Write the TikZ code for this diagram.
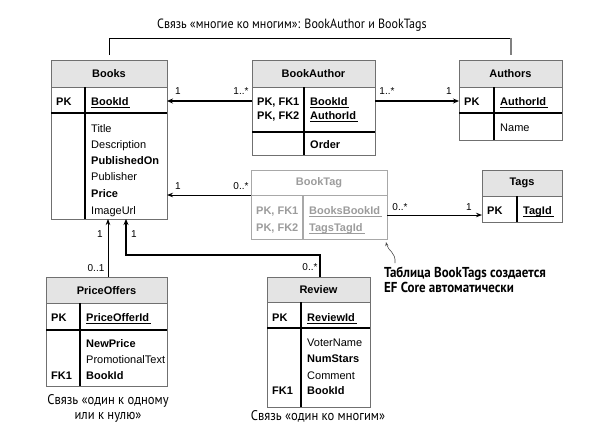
\documentclass[tikz,border=0pt]{standalone}
\usepackage{fontspec}
\setmainfont{Liberation Sans}
\newfontfamily\captfont[FakeStretch=0.9]{PT Sans}
\usetikzlibrary{arrows.meta}
\definecolor{hdrgray}{HTML}{E4E4E4}
\definecolor{framegray}{HTML}{707070}
\definecolor{ghost}{HTML}{9C9C9C}
\definecolor{ghostline}{HTML}{A8A8A8}
\newcommand\keyu[1]{\setbox0=\hbox{#1}\rlap{\raisebox{-3pt}{\rule{\dimexpr\wd0+2pt\relax}{1.1pt}}}\box0}
\tikzset{
  ent/.style={draw=framegray, line width=0.9pt, inner sep=0pt, anchor=north west},
  hdrline/.style={draw=framegray, line width=0.7pt},
  thk/.style={draw=black, line width=1.8pt},
  hdrtxt/.style={inner sep=0pt, font=\fontsize{11}{13}\selectfont\bfseries},
  txt/.style={anchor=base west, inner sep=0pt, font=\fontsize{11}{13}\selectfont},
  btxt/.style={txt, font=\fontsize{11}{13}\selectfont\bfseries},
  mult/.style={inner sep=0pt, font=\fontsize{10}{12}\selectfont},
  capt/.style={inner sep=0pt, font=\fontsize{14}{15}\captfont, align=center},
  titletxt/.style={inner sep=0pt, font=\fontsize{13.4}{15}\captfont},
  notetxt/.style={inner sep=0pt, font=\fontsize{14.4}{14.5}\captfont\bfseries, align=left, anchor=north west},
  thickarrow/.style={line width=1.8pt, -{Stealth[length=6pt,width=5pt]}},
  thinarrow/.style={line width=0.9pt, -{Stealth[length=6pt,width=4.5pt]}},
}
\begin{document}
\begin{tikzpicture}[x=1pt,y=-1pt]
\useasboundingbox (0,0) rectangle (598,432);

% ---------- Books ----------
\fill[hdrgray] (51,60) rectangle (167,87);
\node[ent, minimum width=116pt, minimum height=159pt] (books) at (51,60) {};
\draw[hdrline] (51,87) -- (167,87);
\draw[thk] (51,113) -- (167,113);
\draw[thk] (85,87) -- (85,219);
\node[hdrtxt] (booksh) at (109,74) {Books};
\node[btxt] (b1) at (56,105) {PK};
\node[btxt] (b2) at (91,105) {\keyu{BookId}};
\node[txt] (b3) at (91,132) {Title};
\node[txt] (b4) at (91,148) {Description};
\node[btxt] (b5) at (91,164) {PublishedOn};
\node[txt] (b6) at (91,180) {Publisher};
\node[btxt] (b7) at (91,197) {Price};
\node[txt] (b8) at (91,214) {ImageUrl};

% ---------- BookAuthor ----------
\fill[hdrgray] (252,60) rectangle (375,87);
\node[ent, minimum width=123pt, minimum height=95pt] (ba) at (252,60) {};
\draw[hdrline] (252,87) -- (375,87);
\draw[thk] (252,132) -- (375,132);
\draw[thk] (304,87) -- (304,155);
\node[hdrtxt] (bah) at (313.5,74) {BookAuthor};
\node[btxt] (ba1) at (257,105) {PK, FK1};
\node[btxt] (ba2) at (257,119) {PK, FK2};
\node[btxt] (ba3) at (310,105) {\keyu{BookId}};
\node[btxt] (ba4) at (310,119) {\keyu{AuthorId}};
\node[btxt] (ba5) at (310,148) {Order};

% ---------- Authors ----------
\fill[hdrgray] (459,60) rectangle (562,87);
\node[ent, minimum width=103pt, minimum height=80pt] (authors) at (459,60) {};
\draw[hdrline] (459,87) -- (562,87);
\draw[thk] (459,113) -- (562,113);
\draw[thk] (494,87) -- (494,140);
\node[hdrtxt] (auh) at (510.5,74) {Authors};
\node[btxt] (au1) at (464,105) {PK};
\node[btxt] (au2) at (500,105) {\keyu{AuthorId}};
\node[txt] (au3) at (500,131) {Name};

% ---------- BookTag (generated, grey) ----------
\node[ent, draw=ghostline, minimum width=136pt, minimum height=69pt] (bt) at (251,170) {};
\draw[ghostline, line width=0.9pt] (251,195) -- (387,195);
\draw[ghostline, line width=1.4pt] (303,195) -- (303,239);
\node[hdrtxt, text=ghost] (bth) at (319,183) {BookTag};
\node[btxt, text=ghost] (bt1) at (256,214) {PK, FK1};
\node[btxt, text=ghost] (bt2) at (256,231) {PK, FK2};
\node[btxt, text=ghost] (bt3) at (309,214) {\color{ghost}\keyu{BooksBookId}};
\node[btxt, text=ghost] (bt4) at (309,231) {\color{ghost}\keyu{TagsTagId}};

% ---------- Tags ----------
\fill[hdrgray] (482,170) rectangle (562,196);
\node[ent, minimum width=80pt, minimum height=52pt] (tags) at (482,170) {};
\draw[hdrline] (482,196) -- (562,196);
\draw[thk] (517,196) -- (517,222);
\node[hdrtxt] (tgh) at (522,183) {Tags};
\node[btxt] (tg1) at (487,214) {PK};
\node[btxt] (tg2) at (523,214) {\keyu{TagId}};

% ---------- PriceOffers ----------
\fill[hdrgray] (46,277) rectangle (167,303);
\node[ent, minimum width=121pt, minimum height=109pt] (po) at (46,277) {};
\draw[hdrline] (46,303) -- (167,303);
\draw[thk] (46,330) -- (167,330);
\draw[thk] (80,303) -- (80,386);
\node[hdrtxt] (poh) at (106.5,291) {PriceOffers};
\node[btxt] (po1) at (51,321) {PK};
\node[btxt] (po2) at (86,321) {\keyu{PriceOfferId}};
\node[btxt] (po3) at (86,347) {NewPrice};
\node[txt] (po4) at (86,363) {PromotionalText};
\node[btxt] (po5) at (51,379) {FK1};
\node[btxt] (po6) at (86,379) {BookId};

% ---------- Review ----------
\fill[hdrgray] (267,277) rectangle (370,302);
\node[ent, minimum width=103pt, minimum height=130pt] (rv) at (267,277) {};
\draw[hdrline] (267,302) -- (370,302);
\draw[thk] (267,328) -- (370,328);
\draw[thk] (301,302) -- (301,407);
\node[hdrtxt] (rvh) at (318.5,290) {Review};
\node[btxt] (rv1) at (272,321) {PK};
\node[btxt] (rv2) at (307,321) {\keyu{ReviewId}};
\node[txt] (rv3) at (307,346) {VoterName};
\node[btxt] (rv4) at (307,362) {NumStars};
\node[txt] (rv5) at (307,379) {Comment};
\node[btxt] (rv6) at (272,394) {FK1};
\node[btxt] (rv7) at (307,394) {BookId};

% ---------- connection points ----------
\coordinate (booksE1) at (167,101);
\coordinate (booksE2) at (167,195);
\coordinate (booksS1) at (108,219);
\coordinate (booksS2) at (126,219);
\coordinate (baW) at (252,101);
\coordinate (baE) at (375,101);
\coordinate (auW) at (459,101);
\coordinate (btW) at (251,195);
\coordinate (btE) at (387,215);
\coordinate (tgW) at (482,215);
\coordinate (poN) at (108,277);
\coordinate (rvN) at (320,277);
\coordinate (rvBend) at (320,255);
\coordinate (noteTail) at (395,263);
\coordinate (noteTip) at (386,242);

% ---------- connectors ----------
\draw[thickarrow] (baW) -- (booksE1);
\draw[thickarrow] (baE) -- (auW);
\draw[thinarrow] (btW) -- (booksE2);
\draw[thinarrow] (btE) -- (tgW);
\draw[thinarrow] (poN) -- (booksS1);
\draw[line width=1.6pt, -{Stealth[length=6pt,width=5pt]}] (rvN) -- (rvBend) -| (booksS2);

% bracket for many-to-many
\draw[line width=0.9pt] ([yshift=5pt]books.north) |- (authors.north |- 0,38);
\draw[gray, line width=1.6pt] (authors.north |- 0,38) -- ([yshift=5pt]authors.north);

% multiplicities
\node[mult] (m1) at (178,91) {1};
\node[mult] (m2) at (241,91) {1..*};
\node[mult] (m3) at (387,91) {1..*};
\node[mult] (m4) at (449,91) {1};
\node[mult] (m5) at (178,186) {1};
\node[mult] (m6) at (241,186) {0..*};
\node[mult] (m7) at (400,207) {0..*};
\node[mult] (m8) at (469,207) {1};
\node[mult] (m9) at (100,234) {1};
\node[mult] (m10) at (96,268) {0..1};
\node[mult] (m11) at (134,234) {1};
\node[mult] (m12) at (310,267) {0..*};

% note
\draw[line width=0.6pt, black!70, -{Stealth[length=4pt,width=3pt]}] (noteTail) .. controls (396,252) and (388,251) .. (noteTip);
\node[notetxt] (note) at (384,267) {Таблица BookTags создается\\EF Core автоматически};

% captions
\node[titletxt] (title) at (292,25) {Связь «многие ко многим»: BookAuthor и BookTags};
\node[capt] (cap1) at (108,408) {Связь «один к одному\\или к нулю»};
\node[capt] (cap2) at (318,416) {Связь «один ко многим»};
\end{tikzpicture}
\end{document}
